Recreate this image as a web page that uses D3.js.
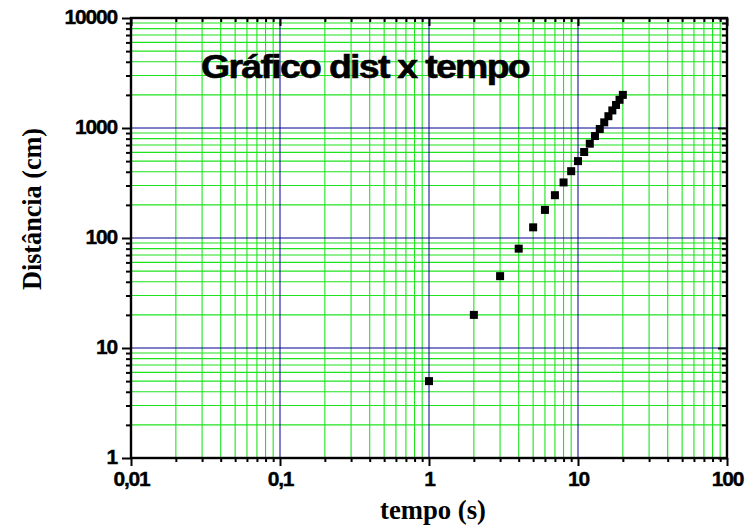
<!DOCTYPE html>
<html>
<head>
<meta charset="utf-8">
<script src="https://cdn.jsdelivr.net/npm/d3@7"></script>
<style>
  html, body { margin: 0; padding: 0; background: #ffffff; }
  svg { display: block; }
</style>
</head>
<body>
<svg id="chart" width="753" height="529"></svg>
<script>
// Measured distance vs. time
const tempo = [1, 2, 3, 4, 5, 6, 7, 8, 9, 10, 11, 12, 13, 14, 15, 16, 17, 18, 19, 20];
const distancia = [5, 20, 45, 80, 125, 180, 245, 320, 405, 500, 605, 720, 845, 980, 1125, 1280, 1445, 1620, 1805, 2000];

// Axis decades and their labels
const xTicks = [0.01, 0.1, 1, 10, 100];
const xTickLabels = ["0,01", "0,1", "1", "10", "100"];
const yTicks = [1, 10, 100, 1000, 10000];
const yTickLabels = ["1", "10", "100", "1000", "10000"];

const titleText = "Gráfico dist x tempo";
const xTitle = "tempo (s)";
const yTitle = "Distância (cm)";

const svg = d3.select("#chart");
const plotLeft = 131, plotRight = 727, plotTop = 18, plotBottom = 458;

const x = d3.scaleLog().domain([xTicks[0], xTicks[xTicks.length - 1]]).range([plotLeft, plotRight]);
const y = d3.scaleLog().domain([yTicks[0], yTicks[yTicks.length - 1]]).range([plotBottom, plotTop]);

// minor ticks 2..9 inside each decade
function minors(majors) {
  const out = [];
  for (let i = 0; i < majors.length - 1; i++) {
    for (let k = 2; k <= 9; k++) out.push(majors[i] * k);
  }
  return out;
}
const xMinor = minors(xTicks);
const yMinor = minors(yTicks);

const green = "#1ee41e";
const navy = "#00008c";

// grid: minor lines green, decade lines navy
const grid = svg.append("g");
grid.selectAll("line.vminor").data(xMinor).join("line")
  .attr("x1", d => x(d)).attr("x2", d => x(d))
  .attr("y1", plotTop).attr("y2", plotBottom)
  .attr("stroke", green).attr("stroke-width", 1.1);
grid.selectAll("line.hminor").data(yMinor).join("line")
  .attr("y1", d => y(d)).attr("y2", d => y(d))
  .attr("x1", plotLeft).attr("x2", plotRight)
  .attr("stroke", green).attr("stroke-width", 1.1);
grid.selectAll("line.vmajor").data(xTicks.slice(1, -1)).join("line")
  .attr("x1", d => x(d)).attr("x2", d => x(d))
  .attr("y1", plotTop).attr("y2", plotBottom)
  .attr("stroke", navy).attr("stroke-width", 1);
grid.selectAll("line.hmajor").data(yTicks.slice(1, -1)).join("line")
  .attr("y1", d => y(d)).attr("y2", d => y(d))
  .attr("x1", plotLeft).attr("x2", plotRight)
  .attr("stroke", navy).attr("stroke-width", 1);

// axes
const tickFont = "bold 21px 'Liberation Sans', Arial, sans-serif";
function styleAxis(g) {
  g.select(".domain").remove();
  g.selectAll(".tick line").attr("stroke", "#000").attr("stroke-width", 2);
}
function styleLabels(sel) {
  sel.style("font", tickFont).attr("fill", "#000")
    .attr("stroke", "#000").attr("stroke-width", 0.4)
    .style("letter-spacing", "-1.2px");
}

// bottom: labelled decades + short minor ticks, outward
svg.append("g").attr("transform", `translate(0,${plotBottom})`)
  .call(d3.axisBottom(x).tickValues(xTicks).tickSize(8).tickPadding(5)
    .tickFormat((d, i) => xTickLabels[i]))
  .call(styleAxis)
  .selectAll("text").call(styleLabels);
svg.append("g").attr("transform", `translate(0,${plotBottom})`)
  .call(d3.axisBottom(x).tickValues(xMinor).tickSize(4).tickFormat(""))
  .call(styleAxis);

// left: labelled decades + minor ticks, outward
svg.append("g").attr("transform", `translate(${plotLeft},0)`)
  .call(d3.axisLeft(y).tickValues(yTicks).tickSize(9).tickPadding(5)
    .tickFormat((d, i) => yTickLabels[i]))
  .call(styleAxis)
  .selectAll("text").call(styleLabels).attr("dy", "0.25em");
svg.append("g").attr("transform", `translate(${plotLeft},0)`)
  .call(d3.axisLeft(y).tickValues(yMinor).tickSize(5).tickFormat(""))
  .call(styleAxis);

// top and right: inward ticks, no labels
svg.append("g").attr("transform", `translate(0,${plotTop})`)
  .call(d3.axisTop(x).tickValues(xTicks).tickSize(-8).tickFormat(""))
  .call(styleAxis);
svg.append("g").attr("transform", `translate(0,${plotTop})`)
  .call(d3.axisTop(x).tickValues(xMinor).tickSize(-4).tickFormat(""))
  .call(styleAxis);
svg.append("g").attr("transform", `translate(${plotRight},0)`)
  .call(d3.axisRight(y).tickValues(yTicks).tickSize(-9).tickFormat(""))
  .call(styleAxis);
svg.append("g").attr("transform", `translate(${plotRight},0)`)
  .call(d3.axisRight(y).tickValues(yMinor).tickSize(-5).tickFormat(""))
  .call(styleAxis);

// frame
svg.append("rect")
  .attr("x", plotLeft).attr("y", plotTop)
  .attr("width", plotRight - plotLeft).attr("height", plotBottom - plotTop)
  .attr("fill", "none").attr("stroke", "#000").attr("stroke-width", 2.4);

// data points
const sq = 8;
svg.append("g").selectAll("rect").data(tempo).join("rect")
  .attr("x", (d, i) => x(d) - sq / 2)
  .attr("y", (d, i) => y(distancia[i]) - sq / 2)
  .attr("width", sq).attr("height", sq)
  .attr("fill", "#000");

// title
svg.append("text")
  .attr("x", 201).attr("y", 78)
  .attr("textLength", 328).attr("lengthAdjust", "spacingAndGlyphs")
  .style("font", "bold 33px 'Liberation Sans', Arial, sans-serif")
  .style("letter-spacing", "-1.5px")
  .attr("fill", "#000").attr("stroke", "#000").attr("stroke-width", 0.6)
  .text(titleText);

// axis titles
svg.append("text")
  .attr("x", 433).attr("y", 519)
  .attr("text-anchor", "middle")
  .attr("textLength", 106).attr("lengthAdjust", "spacingAndGlyphs")
  .style("font", "bold 28px 'Liberation Serif', 'Times New Roman', serif")
  .attr("fill", "#000")
  .text(xTitle);

svg.append("text")
  .attr("transform", "translate(41,209) rotate(-90)")
  .attr("text-anchor", "middle")
  .attr("textLength", 162).attr("lengthAdjust", "spacingAndGlyphs")
  .style("font", "bold 28px 'Liberation Serif', 'Times New Roman', serif")
  .attr("fill", "#000")
  .text(yTitle);
</script>
</body>
</html>
